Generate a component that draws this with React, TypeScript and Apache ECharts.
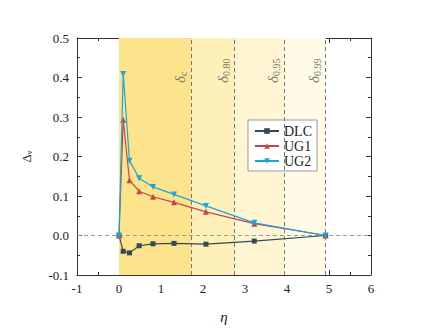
import React, { useEffect, useRef } from "react";
import * as echarts from "echarts";

const eta = [0, 0.1, 0.25, 0.48, 0.81, 1.31, 2.07, 3.22, 4.92];
const dlc = [0, -0.04, -0.044, -0.026, -0.021, -0.02, -0.022, -0.014, 0];
const ug1 = [0, 0.293, 0.14, 0.112, 0.098, 0.084, 0.06, 0.03, 0];
const ug2 = [0, 0.409, 0.189, 0.145, 0.123, 0.104, 0.075, 0.032, 0];
const thresholds = [1.73, 2.75, 3.93, 4.92];
const thresholdSubs = ["c", "0.80", "0.95", "0.99"];
const bandStarts = [0, 1.73, 2.75, 3.93];
const bandColors = ["#FDE48C", "#FEF0B9", "#FFF5D2", "#FFFBE6"];
const seriesNames = ["DLC", "UG1", "UG2"];
const xTicks = { min: -1, max: 6, interval: 1 };
const yTicks = { min: -0.1, max: 0.5, interval: 0.1 };

const FONT = "Liberation Serif";

export default function App() {
  const ref = useRef<HTMLDivElement>(null);
  useEffect(() => {
    const chart = echarts.init(ref.current!, null, { renderer: "svg" });
    const pairs = (ys: number[]) => eta.map((x, i) => [x, ys[i]]);
    const axisCommon = {
      axisLine: { show: true, onZero: false, lineStyle: { color: "#333", width: 1 } },
      axisTick: { show: true, inside: true, length: 5, lineStyle: { color: "#333" } },
      minorTick: { show: true, splitNumber: 2, length: 3, lineStyle: { color: "#333" } },
      splitLine: { show: false },
    };
    const option: any = {
      animation: false,
      textStyle: { fontFamily: FONT },
      grid: { left: 77, right: 60, top: 38, bottom: 55 },
      xAxis: [
        {
          type: "value",
          ...xTicks,
          ...axisCommon,
          name: "η",
          nameLocation: "middle",
          nameGap: 34,
          nameTextStyle: { fontFamily: FONT, fontStyle: "italic", fontSize: 15, color: "#222" },
          axisLabel: { fontFamily: FONT, fontSize: 13, color: "#222", margin: 7 },
        },
        {
          type: "value",
          position: "top",
          ...xTicks,
          ...axisCommon,
          axisLabel: { show: false },
        },
      ],
      yAxis: [
        {
          type: "value",
          ...yTicks,
          ...axisCommon,
          name: "{a|Δ}{b|ν}",
          nameLocation: "middle",
          nameGap: 44,
          nameRotate: 90,
          nameTextStyle: {
            fontFamily: FONT,
            color: "#222",
            rich: {
              a: { fontSize: 13, fontFamily: FONT, color: "#222" },
              b: { fontSize: 8, fontFamily: FONT, color: "#222", verticalAlign: "bottom", padding: [6, 0, 0, 0] },
            },
          },
          axisLabel: {
            fontFamily: FONT,
            fontSize: 13,
            color: "#222",
            margin: 8,
            formatter: (v: number) => v.toFixed(1),
          },
        },
        {
          type: "value",
          position: "right",
          ...yTicks,
          ...axisCommon,
          axisLabel: { show: false },
        },
      ],
      legend: {
        orient: "vertical",
        left: 248,
        top: 120,
        data: seriesNames,
        backgroundColor: "#fff",
        borderColor: "#999",
        borderWidth: 1,
        borderRadius: 0,
        padding: [4, 5, 3, 6],
        itemGap: 1,
        itemWidth: 24,
        itemHeight: 7,
        textStyle: { fontFamily: FONT, fontSize: 14, color: "#222" },
      },
      series: [
        {
          name: "bands",
          type: "line",
          data: [],
          silent: true,
          markArea: {
            silent: true,
            itemStyle: { opacity: 1 },
            data: bandStarts.map((s, i) => [
              { xAxis: s, itemStyle: { color: bandColors[i] } },
              { xAxis: thresholds[i] },
            ]),
          },
          markLine: {
            silent: true,
            symbol: "none",
            lineStyle: { color: "#777", type: [4, 3], width: 1 },
            data: [
              ...thresholds.map((t, i) => ({
                xAxis: t,
                label: {
                  show: true,
                  position: "insideStartTop",
                  distance: [192, 3],
                  formatter: `{d|δ}{s|${thresholdSubs[i]}}`,
                  rich: {
                    d: { fontSize: 15, fontStyle: "italic", fontFamily: FONT, color: "#777" },
                    s: { fontSize: 10, fontFamily: FONT, color: "#777", verticalAlign: "bottom", padding: [7, 0, 0, 0] },
                  },
                },
              })),
              {
                yAxis: 0,
                label: { show: false },
                lineStyle: { color: "#999", type: [4, 3], width: 1 },
              },
            ],
          },
        },
        {
          name: "DLC",
          type: "line",
          data: pairs(dlc),
          symbol: "rect",
          symbolSize: 5,
          z: 5,
          itemStyle: { color: "#2E4B55" },
          lineStyle: { color: "#2E4B55", width: 1.2 },
        },
        {
          name: "UG1",
          type: "line",
          data: pairs(ug1),
          symbol: "triangle",
          symbolSize: 6,
          z: 6,
          itemStyle: { color: "#C0474A" },
          lineStyle: { color: "#C0474A", width: 1.2 },
        },
        {
          name: "UG2",
          type: "line",
          data: pairs(ug2),
          symbol: "triangle",
          symbolRotate: 180,
          symbolSize: 6,
          z: 7,
          itemStyle: { color: "#1BA6DA" },
          lineStyle: { color: "#1BA6DA", width: 1.2 },
        },
      ],
    };
    chart.setOption(option);
    return () => chart.dispose();
  }, []);
  return <div ref={ref} style={{ width: 431, height: 330, position: "absolute", left: 0, top: 0, background: "#fff" }} />;
}
